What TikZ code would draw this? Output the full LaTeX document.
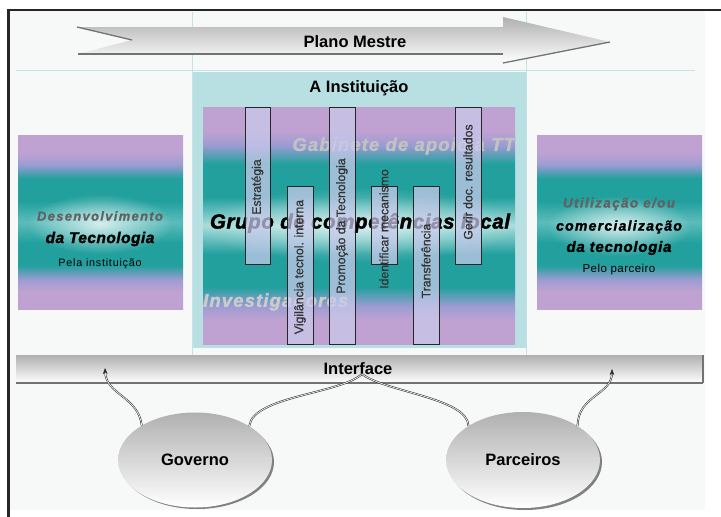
\documentclass[tikz,border=0pt]{standalone}
\usepackage{fontspec}
\setmainfont{Liberation Sans}
\usetikzlibrary{shapes.geometric,shadings,fadings,arrows.meta}
\definecolor{bgc}{HTML}{F7F9F9}
\definecolor{linec}{HTML}{C4E2E8}
\definecolor{instc}{HTML}{B8E0E3}
\definecolor{purc}{HTML}{C0A2D2}
\definecolor{bluc}{HTML}{9C9CD2}
\definecolor{tealc}{HTML}{22A09E}
\definecolor{lightc}{HTML}{A8DCDC}
\definecolor{midc}{HTML}{5CBCBA}
\definecolor{barc}{HTML}{CACAEC}
\pgfdeclareverticalshading{bandshade}{100bp}{color(0bp)=(purc); color(25bp)=(purc); color(30bp)=(purc); color(33bp)=(bluc); color(37bp)=(tealc); color(44bp)=(tealc); color(50bp)=(lightc); color(56bp)=(tealc); color(63bp)=(tealc); color(67bp)=(bluc); color(70bp)=(purc); color(75bp)=(purc); color(100bp)=(purc)}
\pgfdeclareverticalshading{sideshade}{100bp}{color(0bp)=(purc); color(25bp)=(purc); color(30bp)=(purc); color(33.5bp)=(bluc); color(37.5bp)=(tealc); color(44bp)=(tealc); color(50bp)=(midc); color(56bp)=(tealc); color(62.5bp)=(tealc); color(66.5bp)=(bluc); color(70bp)=(purc); color(75bp)=(purc); color(100bp)=(purc)}
\tikzfading[name=spotfade, inner color=transparent!0, outer color=transparent!100]
\begin{document}
\begin{tikzpicture}[x=1pt,y=-1pt,
  guide/.style={draw=linec, line width=0.7pt},
  edgeshadow/.style={draw=black!55, line width=1.3pt},
  title/.style={font=\bfseries\fontsize{16.5}{18}\selectfont, inner sep=0pt},
  bigtxt/.style={font=\bfseries\itshape\fontsize{18.5}{20}\selectfont\addfontfeatures{LetterSpace=6,FakeBold=1.5}, inner sep=0pt},
  barbox/.style={draw=black!85, line width=0.6pt, fill=barc, fill opacity=0.72},
  bartxt/.style={rotate=90, font=\fontsize{12.3}{14}\selectfont\addfontfeatures{FakeBold=0.8}, text=black!80, inner sep=0pt},
  hollow/.style={text=black!62},
  blob/.style={ellipse, minimum width=154pt, minimum height=95pt, top color=gray!62, bottom color=white, inner sep=0pt, font=\bfseries\fontsize{16.5}{18}\selectfont},
  conn/.style={draw=black!85, line width=0.5pt, double=white!85!gray, double distance=0.8pt},
  tip/.style={-{Stealth[length=6pt,width=4.5pt]}}
]
\useasboundingbox (0,0) rectangle (721,517);
\fill[white] (0,0) rectangle (721,517);
\fill[bgc] (10,11) rectangle (705,510);
\draw[black!85, line width=2pt] (7,10) -- (721,10);
\draw[black!85, line width=2.6pt] (8.5,9) -- (8.5,517);

% institution area
\fill[instc] (192,72) rectangle (526,348);
\draw[guide] (16,70.5) -- (695,70.5);
\draw[guide] (192,12) -- (192,366);
\draw[guide] (526,12) -- (526,366);

% Plano Mestre arrow
\shade[top color=gray!62, bottom color=white] (77,27) -- (503,27) -- (503,17) -- (610,42) -- (503,63) -- (503,53) -- (78,54) -- (132,40) -- cycle;
\draw[edgeshadow] (78,54) -- (503,54);
\draw[edgeshadow] (503,63) -- (610,42);
\draw[edgeshadow] (77,27) -- (132,40);
\node[title] (pm) at (355,42) {Plano Mestre};

\node[title] (inst) at (359,88) {A Instituição};

% inner gradient
\shade[shading=bandshade] (203,107) rectangle (515,344);
\fill[white, opacity=0.55, path fading=spotfade] (359,225) ellipse (160pt and 38pt);
\node[bigtxt, text=black!24, anchor=east] (gab) at (515,146) {Gabinete de apoio à TT};
\node[font=\bfseries\itshape\fontsize{20.5}{22}\selectfont\addfontfeatures{LetterSpace=3,FakeBold=2}, inner sep=0pt] (grupo) at (360,223) {Grupo de competências local};
\node[bigtxt, text=black!20, anchor=west] (inv) at (203,302) {Investigadores};

% vertical bars
\draw[barbox] (245,107) rectangle (270,264);
\draw[barbox] (287,186) rectangle (313,344);
\draw[barbox] (329,107) rectangle (355,344);
\draw[barbox] (371,186) rectangle (397,264);
\draw[barbox] (413,186) rectangle (439,344);
\draw[barbox] (455,107) rectangle (481,264);
\node[bartxt] (b1) at (257.5,187) {Estratégia};
\node[bartxt] (b2) at (300,267) {Vigilância tecnol. interna};
\node[bartxt] (b3) at (342,226) {Promoção da Tecnologia};
\node[bartxt] (b4) at (384,229) {Identificar mecanismo};
\node[bartxt] (b5) at (426,261) {Transferência};
\node[bartxt] (b6) at (468,182) {Gerir doc. resultados};

% left box
\shade[shading=sideshade] (18,135) rectangle (183,309);
\fill[white, opacity=0.75, path fading=spotfade] (100,224) ellipse (72pt and 30pt);
\node[font=\bfseries\itshape\fontsize{13}{15}\selectfont\addfontfeatures{LetterSpace=10,FakeBold=1}, hollow, inner sep=0pt] (l1) at (100,216) {Desenvolvimento};
\node[font=\bfseries\itshape\fontsize{15.5}{17}\selectfont\addfontfeatures{LetterSpace=3,FakeBold=1.5}, inner sep=0pt] (l2) at (100,239) {da Tecnologia};
\node[font=\fontsize{10.8}{12}\selectfont\addfontfeatures{LetterSpace=7}, inner sep=0pt] (l3) at (100,264) {Pela instituição};

% right box
\shade[shading=sideshade] (537,135) rectangle (702,309);
\fill[white, opacity=0.75, path fading=spotfade] (619,226) ellipse (72pt and 30pt);
\node[font=\bfseries\itshape\fontsize{13.5}{15}\selectfont\addfontfeatures{LetterSpace=10,FakeBold=1}, hollow, inner sep=0pt] (r1) at (619,204) {Utilização e/ou};
\node[font=\bfseries\itshape\fontsize{14}{16}\selectfont\addfontfeatures{LetterSpace=9,FakeBold=1.5}, inner sep=0pt] (r2) at (619,227) {comercialização};
\node[font=\bfseries\itshape\fontsize{15}{17}\selectfont\addfontfeatures{LetterSpace=5,FakeBold=1.5}, inner sep=0pt] (r3) at (619,248) {da tecnologia};
\node[font=\fontsize{11.5}{13}\selectfont\addfontfeatures{LetterSpace=4}, inner sep=0pt] (r4) at (619,270) {Pelo parceiro};

% Interface bar
\shade[top color=gray!62, middle color=white!94!gray, bottom color=white] (16,355) rectangle (703,383);
\draw[edgeshadow] (16,383) -- (703,383);
\draw[edgeshadow] (703,355) -- (703,383);
\node[title] (intf) at (358,369) {Interface};
\coordinate (ic) at (362,374);
\coordinate (lt) at (105,368);
\coordinate (rt) at (612,369);

% ellipses
\fill[black!50] (197,462) ellipse (77pt and 47pt);
\fill[black!50] (525,462) ellipse (77pt and 48pt);
\node[blob] (gov) at (195,460) {Governo};
\node[blob, minimum height=96pt] (par) at (523,460) {Parceiros};

% connectors
\draw[conn, tip] (gov.147) .. controls (138,396) and (106,395) .. (lt);
\draw[conn] (gov.32) .. controls (253,396) and (340,394) .. (ic);
\draw[conn] (par.148) .. controls (468,398) and (385,392) .. (ic);
\draw[conn, tip] (par.32) .. controls (578,395) and (612,395) .. (rt);
\end{tikzpicture}
\end{document}
